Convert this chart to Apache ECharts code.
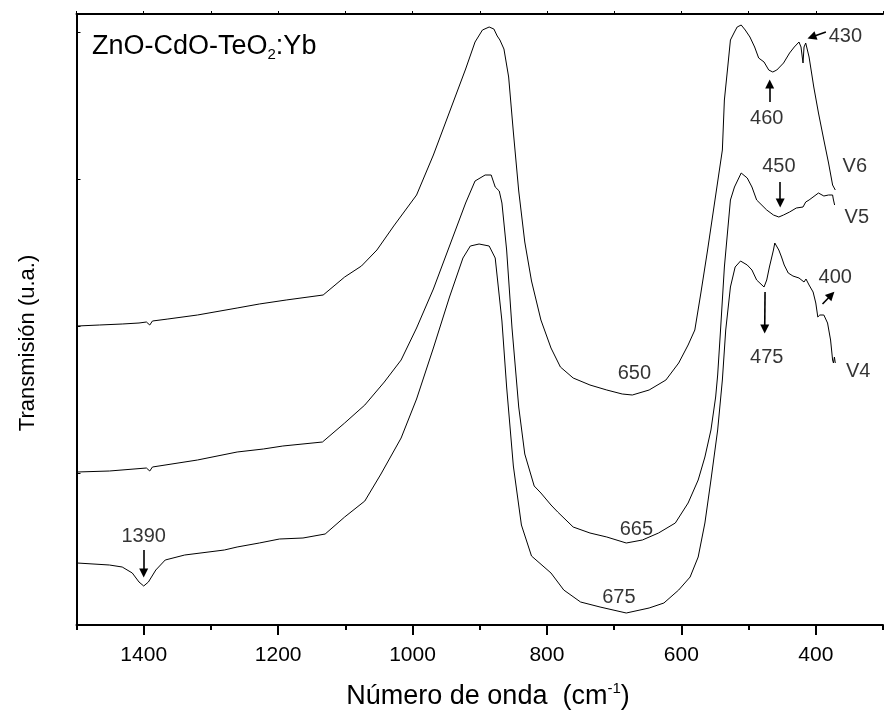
<!DOCTYPE html>
<html>
<head>
<meta charset="utf-8">
<script src="https://cdn.jsdelivr.net/npm/echarts@6/dist/echarts.min.js"></script>
<style>html,body{margin:0;padding:0;background:#fff}#c{width:886px;height:719px}</style>
</head>
<body>
<div id="c"></div>
<script>
// wavenumber (cm-1), transmission (a.u.)
const v6 = [[1499,299],[1466,300],[1432,301],[1407,302],[1396,303],[1391,300],[1387,304],[1364,306],[1320,310],[1261,317],[1228,321],[1188,325],[1133,330],[1101,348],[1076,359],[1053,375],[1028,399],[994,430],[969,470],[945,513],[921,556],[907,583],[896,595],[886,598],[879,596],[874,589],[870,585],[864,576],[857,548],[850,493],[842,434],[833,383],[823,344],[809,305],[794,277],[780,258],[761,247],[736,240],[711,235],[688,231],[673,230],[648,235],[623,245],[604,262],[590,280],[580,295],[571,332],[561,375],[550,425],[539,475],[536,525],[531,558],[527,585],[521,593],[517,598],[511,600],[505,595],[498,588],[491,578],[485,567],[477,563],[470,555],[464,553],[458,555],[448,562],[439,572],[432,578],[425,583],[422,578],[419,562],[417.5,578],[415,582],[410,568],[403,538],[396,512],[388,485],[381,462],[375,440],[374,438],[372.5,442],[371,435]];
const v5 = [[1499,153],[1451,154],[1396,157],[1391,154],[1387,158],[1320,165],[1261,173],[1222,176],[1193,179],[1134,183],[1101,202],[1071,220],[1042,243],[1017,265],[994,297],[969,336],[945,379],[921,422],[907,444],[892,450],[883,450],[877,438],[871,434],[867,422],[860,375],[852,297],[842,218],[833,171],[819,139],[809,132],[794,120],[784,113],[761,98],[736,92],[711,88],[682,82],[658,85],[634,92],[609,102],[590,122],[575,145],[565,168],[556,195],[549,228],[546,250],[542,292],[536,358],[527,425],[521,438],[511,452],[502,447],[495,438],[488,425],[473,415],[463,410],[455,408],[448,410],[439,413],[429,417],[419,418],[415,423],[410,425],[396,432],[388,429],[381,430],[375,430],[374,426],[372,420]];
const v4 = [[1499,62],[1451,60],[1432,58],[1417,52],[1407,43],[1400,39],[1393,43],[1382,55],[1368,65],[1339,70],[1280,75],[1261,78],[1228,82],[1198,86],[1163,87],[1130,91],[1101,108],[1071,124],[1047,151],[1017,187],[994,226],[969,277],[945,328],[925,367],[914,379],[901,381],[886,379],[877,367],[867,304],[860,238],[850,159],[838,100],[823,69],[794,52],[775,35],[750,23],[721,18],[682,12],[648,17],[626,22],[604,35],[587,48],[575,68],[565,102],[556,145],[546,195],[539,245],[534,295],[527,338],[520,358],[512,364],[502,360],[495,355],[488,345],[477,338],[473,345],[469,358],[463,375],[461,382],[455,375],[451,368],[447,360],[441,352],[434,349],[425,347],[417.5,343],[414.6,346],[410,340],[404,333],[400,322],[397,308],[394,310],[388,310],[382.5,302],[378,285],[375,265],[373.7,262],[372.3,268],[371,262]];

const xMajorTicks = [400, 600, 800, 1000, 1200, 1400];
const yTicks = [152, 299, 446, 593];

// annotation texts anchored at [wavenumber, transmission]
const noteTexts = ['1390','460','430','450','400','475','650','665','675','V6','V5','V4'];
const noteAt = [[1400,89],[473,507],[356,589],[455,459],[371,348],[473,268],[670,252],[667,96],[693,28],[342,459],[339,408],[337,254]];
// arrows: [from, to(head)]
const arrowPairs = [
  [[1400,75],[1400,52]],
  [[468.6,523],[468.6,541]],
  [[385,593],[406,588]],
  [[453,443],[453,422]],
  [[390,321],[377,330]],
  [[475.5,333],[476,296]]
];

const FF = "'Liberation Sans', Arial, sans-serif";
const chart = echarts.init(document.getElementById('c'), null, {renderer:'canvas'});
const lineSer = (d) => ({type:'line', data:d, symbol:'none', showSymbol:false, silent:true,
  lineStyle:{color:'#000', width:1}, xAxisIndex:0, yAxisIndex:0});

const s4 = lineSer(v4);
s4.markLine = {
  silent:true, symbol:['none','triangle'], symbolSize:9, precision:2,
  label:{show:false}, emphasis:{disabled:true},
  lineStyle:{color:'#000', width:1.6, type:'solid'}, itemStyle:{color:'#000'},
  data: arrowPairs.map(p => [{coord:p[0]},{coord:p[1]}])
};

const option = {
  animation:false,
  grid:{left:76.5, top:14, right:-12.5, bottom:94},
  xAxis:[
    {type:'value', min:300, max:1500, interval:100, inverse:true, position:'bottom',
     axisLine:{lineStyle:{color:'#000', width:2}},
     axisTick:{length:5, lineStyle:{color:'#000', width:2}},
     axisLabel:{formatter:v => (v % 200 === 0 ? String(v) : ''), fontSize:21, color:'#000', margin:20, fontFamily:FF},
     splitLine:{show:false}},
    {type:'value', min:300, max:1500, inverse:true, position:'bottom',
     axisLine:{show:false},
     axisTick:{show:true, customValues:xMajorTicks, length:10, lineStyle:{color:'#000', width:2}},
     axisLabel:{show:false}, splitLine:{show:false}},
    {type:'value', min:300, max:1500, interval:100, inverse:true, position:'top',
     axisLine:{lineStyle:{color:'#000', width:2}},
     axisTick:{length:3, lineStyle:{color:'#000', width:1}},
     axisLabel:{show:false}, splitLine:{show:false}}
  ],
  yAxis:{type:'value', min:0, max:611,
    axisLine:{show:true, lineStyle:{color:'#000', width:2}},
    axisTick:{show:true, inside:true, length:4, customValues:yTicks, lineStyle:{color:'#000', width:1}},
    axisLabel:{show:false}, splitLine:{show:false}},
  series:[
    lineSer(v6), lineSer(v5), s4,
    {type:'scatter', silent:true, symbolSize:1, itemStyle:{color:'rgba(0,0,0,0)'},
     data: noteTexts.map((t,i) => ({name:t, value:noteAt[i]})),
     label:{show:true, position:'inside', formatter:'{b}', color:'#000', fontSize:20, fontFamily:FF}}
  ],
  graphic:[
    {type:'text', x:92, y:47, style:{
      text:'{a|ZnO-CdO-TeO}{s|2}{a|:Yb}', verticalAlign:'middle', align:'left',
      rich:{a:{fontSize:27, fontFamily:FF, color:'#000'},
            s:{fontSize:15, fontFamily:FF, color:'#000', padding:[16,0,0,0]}}}},
    {type:'text', x:28, y:343, rotation:Math.PI/2, style:{
      text:'Transmisión (u.a.)', align:'center', verticalAlign:'middle',
      font:"22px 'Liberation Sans', Arial, sans-serif", fill:'#000'}},
    {type:'text', x:488, y:697, style:{
      text:'{a|Número de onda  (cm}{p|-1}{a|)}', align:'center', verticalAlign:'middle',
      rich:{a:{fontSize:27, fontFamily:FF, color:'#000'},
            p:{fontSize:15, fontFamily:FF, color:'#000', padding:[0,0,16,0]}}}}
  ]
};
chart.setOption(option);
</script>
</body>
</html>
